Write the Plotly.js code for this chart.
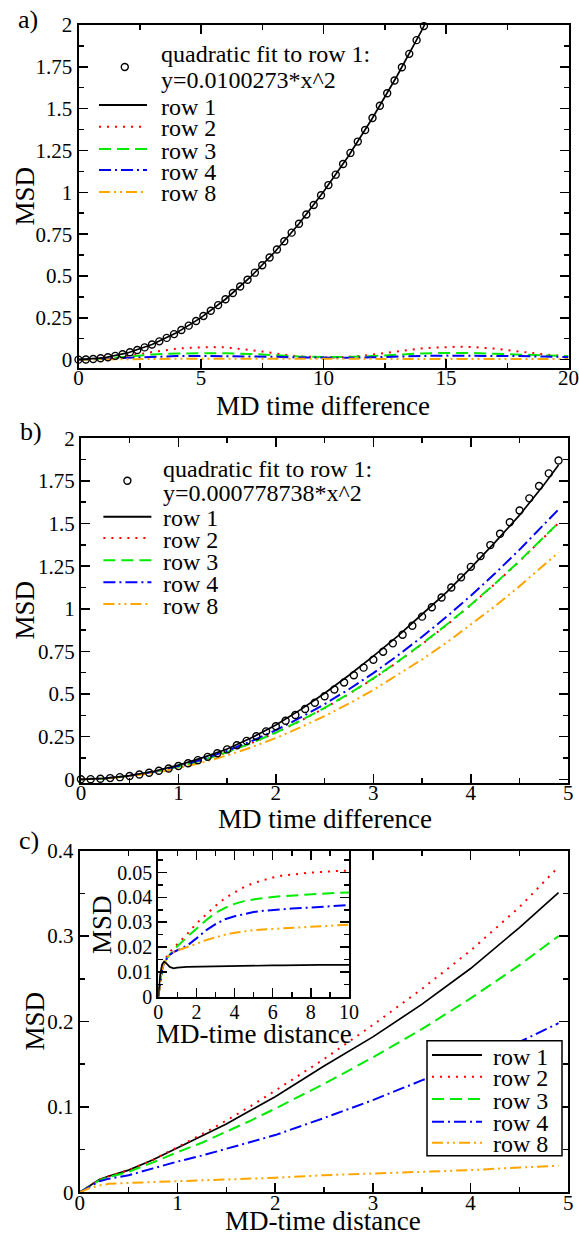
<!DOCTYPE html>
<html>
<head>
<meta charset="utf-8">
<script src="https://cdn.plot.ly/plotly-3.0.1.min.js"></script>
<style>html,body{margin:0;padding:0;background:#fff;}#chart{width:579px;height:1239px;}</style>
</head>
<body>
<div id="chart"></div>
<script>
// ---------- Panel a ----------
const aFitX = [0,0.3,0.6,0.9,1.2,1.5,1.8,2.1,2.4,2.7,3.0,3.3,3.6,3.9,4.2,4.5,4.8,5.1,5.4,5.7,6.0,6.3,6.6,6.9,7.2,7.5,7.8,8.1,8.4,8.7,9.0,9.3,9.6,9.9,10.2,10.5,10.8,11.1,11.4,11.7,12.0,12.3,12.6,12.9,13.2,13.5,13.8,14.1];
const aFitY = [0,0.0009,0.0036,0.0081,0.0144,0.0226,0.0325,0.0442,0.0578,0.0731,0.0902,0.1092,0.1300,0.1525,0.1769,0.2031,0.2310,0.2608,0.2924,0.3258,0.3610,0.3980,0.4368,0.4774,0.5198,0.5640,0.6101,0.6579,0.7075,0.7590,0.8122,0.8673,0.9241,0.9828,1.0432,1.1055,1.1696,1.2355,1.3032,1.3726,1.4439,1.5170,1.5919,1.6686,1.7472,1.8275,1.9096,1.9935];
const aRow1X = [0,1,2,3,4,5,6,7,8,9,10,11,12,13,14,15];
const aRow1Y = [0,0.010,0.040,0.090,0.160,0.251,0.361,0.491,0.642,0.812,1.003,1.213,1.444,1.695,1.965,2.256];
const aRow2X = [0,0.5,1,1.5,2,2.5,3,3.5,4,4.5,5,5.5,6,6.5,7,7.5,8,8.5,9,9.5,10,10.5,11,11.5,12,12.5,13,13.5,14,14.5,15,15.5,16,16.5,17,17.5,18,18.5,19,19.5,20];
const aRow2Y = [0,0.002,0.006,0.013,0.022,0.033,0.045,0.056,0.065,0.071,0.074,0.075,0.073,0.067,0.058,0.048,0.037,0.028,0.020,0.015,0.013,0.013,0.016,0.022,0.030,0.040,0.050,0.059,0.067,0.072,0.075,0.077,0.076,0.073,0.066,0.057,0.047,0.038,0.031,0.025,0.021];
const aRowX = [0,1,2,3,4,5,6,7,8,9,10,11,12,13,14,15,16,17,18,19,20];
const aRow3Y = [0,0.006,0.018,0.030,0.037,0.039,0.038,0.034,0.026,0.019,0.015,0.015,0.021,0.030,0.037,0.040,0.040,0.035,0.030,0.025,0.021];
const aRow4Y = [0,0.005,0.012,0.018,0.021,0.022,0.021,0.020,0.017,0.013,0.011,0.011,0.014,0.019,0.022,0.024,0.024,0.023,0.021,0.018,0.016];
const aRow8Y = [0,0.002,0.004,0.005,0.005,0.005,0.005,0.005,0.004,0.004,0.004,0.004,0.004,0.005,0.005,0.005,0.005,0.005,0.005,0.004,0.004];

// ---------- Panel b ----------
const bFitX = [0,0.1,0.2,0.3,0.4,0.5,0.6,0.7,0.8,0.9,1.0,1.1,1.2,1.3,1.4,1.5,1.6,1.7,1.8,1.9,2.0,2.1,2.2,2.3,2.4,2.5,2.6,2.7,2.8,2.9,3.0,3.1,3.2,3.3,3.4,3.5,3.6,3.7,3.8,3.9,4.0,4.1,4.2,4.3,4.4,4.5,4.6,4.7,4.8,4.9];
const bFitY = [0,0.00078,0.00311,0.00701,0.01246,0.01947,0.02803,0.03816,0.04984,0.06308,0.07787,0.09423,0.11214,0.13161,0.15263,0.17522,0.19936,0.22506,0.25231,0.28112,0.31150,0.34342,0.37691,0.41195,0.44855,0.48671,0.52643,0.56770,0.61053,0.65492,0.70086,0.74837,0.79743,0.84804,0.90022,0.95395,1.00924,1.06609,1.12450,1.18446,1.24598,1.30906,1.37369,1.43988,1.50763,1.57694,1.64780,1.72022,1.79420,1.86973];
const bX = [0,0.25,0.5,0.75,1,1.25,1.5,1.75,2,2.25,2.5,2.75,3,3.25,3.5,3.75,4,4.25,4.5,4.75,4.9];
const bRow1Y = [0,0.005,0.021,0.047,0.083,0.127,0.178,0.243,0.318,0.407,0.505,0.61,0.722,0.84,0.968,1.097,1.24,1.391,1.549,1.728,1.843];
const bRow2Y = [0,0.005,0.0195,0.042,0.073,0.111,0.158,0.212,0.273,0.342,0.418,0.5,0.59,0.688,0.793,0.904,1.022,1.147,1.279,1.418,1.503];
const bRow3Y = [0,0.0053,0.0197,0.0426,0.0735,0.112,0.159,0.213,0.274,0.343,0.419,0.502,0.592,0.69,0.795,0.906,1.024,1.149,1.281,1.42,1.505];
const bRow4Y = [0,0.0055,0.0207,0.0448,0.0773,0.118,0.167,0.224,0.288,0.361,0.441,0.528,0.623,0.726,0.836,0.953,1.077,1.208,1.347,1.493,1.583];
const bRow8Y = [0,0.0046,0.0174,0.0377,0.065,0.0993,0.140,0.188,0.242,0.304,0.371,0.444,0.524,0.611,0.703,0.801,0.906,1.016,1.133,1.256,1.331];

// ---------- Panel c (main) ----------
const cX = [0,0.1,0.2,0.3,0.5,0.75,1,1.25,1.5,1.75,2,2.5,3,3.5,4,4.5,4.9];
const cRow1Y = [0,0.007,0.015,0.019,0.026,0.038,0.052,0.066,0.080,0.096,0.112,0.148,0.182,0.22,0.262,0.31,0.351];
const cRow2Y = [0,0.007,0.015,0.019,0.026,0.038,0.053,0.068,0.084,0.101,0.119,0.156,0.196,0.238,0.283,0.334,0.381];
const cRow3Y = [0,0.007,0.014,0.018,0.024,0.035,0.047,0.058,0.071,0.084,0.098,0.127,0.158,0.191,0.227,0.266,0.300];
const cRow4Y = [0,0.007,0.013,0.016,0.020,0.028,0.036,0.043,0.051,0.059,0.067,0.087,0.108,0.131,0.153,0.176,0.198];
const cRow8Y = [0,0.005,0.008,0.010,0.011,0.012,0.013,0.014,0.015,0.016,0.017,0.020,0.022,0.024,0.026,0.029,0.031];

// ---------- Panel c (inset) ----------
const iX = [0,0.1,0.2,0.3,0.4,0.5,0.6,0.8,1,1.5,2,2.5,3,3.5,4,4.5,5,5.5,6,6.5,7,7.5,8,8.5,9,9.5,10];
const iRow1Y = [0,0.009,0.013,0.0141,0.0136,0.0127,0.012,0.0114,0.0117,0.012,0.0121,0.0122,0.0123,0.0124,0.0124,0.0125,0.0125,0.0126,0.0126,0.0126,0.0127,0.0127,0.0127,0.0128,0.0128,0.0128,0.0128];
const iRow2Y = [0,0.006,0.011,0.014,0.016,0.0172,0.018,0.0195,0.021,0.0251,0.0295,0.0332,0.0366,0.0397,0.042,0.0442,0.0458,0.047,0.048,0.0488,0.0493,0.0497,0.05,0.0502,0.0505,0.0507,0.0508];
const iRow3Y = [0,0.006,0.011,0.0135,0.015,0.016,0.017,0.0188,0.0203,0.024,0.0274,0.0308,0.0337,0.0358,0.0374,0.0385,0.0392,0.0398,0.0402,0.0405,0.0408,0.041,0.0413,0.0415,0.0417,0.0419,0.042];
const iRow4Y = [0,0.006,0.011,0.0135,0.015,0.016,0.0168,0.018,0.0187,0.0205,0.0235,0.0267,0.0292,0.0312,0.0324,0.0333,0.0341,0.0346,0.035,0.0353,0.0355,0.0357,0.0359,0.0361,0.0364,0.0367,0.0369];
const iRow8Y = [0,0.006,0.011,0.0135,0.015,0.016,0.0168,0.018,0.0186,0.0198,0.0213,0.0228,0.024,0.025,0.0258,0.0264,0.0268,0.0271,0.0273,0.0275,0.0277,0.0279,0.0281,0.0283,0.0285,0.0287,0.029];

const seriesNames = ['row 1','row 2','row 3','row 4','row 8'];
const fitLabelA = ['quadratic fit to row 1:', 'y=0.0100273*x^2'];
const fitLabelB = ['quadratic fit to row 1:', 'y=0.000778738*x^2'];

// ---------- styles ----------
const FONT = '"Liberation Serif", "Times New Roman", "DejaVu Serif", serif';
const W = 579, H = 1239;
const st = [
  {color:'rgb(0,0,0)', dash:'solid'},
  {color:'rgb(255,0,0)', dash:'2px,6px'},
  {color:'rgb(0,235,0)', dash:'12px,6px'},
  {color:'rgb(0,0,255)', dash:'12px,4px,2px,4px'},
  {color:'rgb(255,165,0)', dash:'11px,4px,2px,4px,2px,4px'}
];
function line(x, y, i, xa, ya) {
  return {x:x, y:y, xaxis:xa, yaxis:ya, mode:'lines', type:'scatter',
          line:{color:st[i].color, dash:st[i].dash, width: i===0 ? 1.7 : 2}, hoverinfo:'skip'};
}
function circ(x, y, xa, ya) {
  return {x:x, y:y, xaxis:xa, yaxis:ya, mode:'markers', type:'scatter', cliponaxis:false,
          marker:{symbol:'circle-open', size:7, color:'black', line:{width:1.4, color:'black'}}, hoverinfo:'skip'};
}

const traces = [
  line(aRow2X, aRow2Y, 1, 'x', 'y'),
  line(aRowX, aRow3Y, 2, 'x', 'y'),
  line(aRowX, aRow4Y, 3, 'x', 'y'),
  line(aRowX, aRow8Y, 4, 'x', 'y'),
  line(aRow1X, aRow1Y, 0, 'x', 'y'),
  circ(aFitX, aFitY, 'x', 'y'),

  line(bX, bRow2Y, 1, 'x2', 'y2'),
  line(bX, bRow3Y, 2, 'x2', 'y2'),
  line(bX, bRow4Y, 3, 'x2', 'y2'),
  line(bX, bRow8Y, 4, 'x2', 'y2'),
  line(bX, bRow1Y, 0, 'x2', 'y2'),
  circ(bFitX, bFitY, 'x2', 'y2'),

  line(cX, cRow1Y, 0, 'x3', 'y3'),
  line(cX, cRow2Y, 1, 'x3', 'y3'),
  line(cX, cRow3Y, 2, 'x3', 'y3'),
  line(cX, cRow4Y, 3, 'x3', 'y3'),
  line(cX, cRow8Y, 4, 'x3', 'y3'),

  line(iX, iRow2Y, 1, 'x4', 'y4'),
  line(iX, iRow3Y, 2, 'x4', 'y4'),
  line(iX, iRow4Y, 3, 'x4', 'y4'),
  line(iX, iRow8Y, 4, 'x4', 'y4'),
  line(iX, iRow1Y, 0, 'x4', 'y4')
];

function px(x){return x/W;}
function py(y){return 1 - y/H;}

function axis(domain, range, dtick, minorDtick, anchor, fontSize, standoff) {
  return {
    domain: domain, range: range, anchor: anchor, autorange:false,
    showline:true, linecolor:'black', linewidth:2, mirror:'allticks',
    ticks:'inside', ticklen:9, tickwidth:1.5, tickcolor:'black',
    dtick: dtick, tick0: 0, showgrid:false, zeroline:false,
    ticklabelstandoff: standoff || 0,
    tickfont:{family:FONT, size:fontSize, color:'black'},
    minor:{dtick:minorDtick, tick0:0, ticks:'inside', ticklen:5, tickwidth:1.5, tickcolor:'black', showgrid:false},
    fixedrange:true
  };
}

const layout = {
  width: W, height: H,
  margin:{l:0, r:0, t:0, b:0, pad:0},
  paper_bgcolor:'white', plot_bgcolor:'white',
  showlegend:false,
  font:{family:FONT, color:'black'},
  xaxis:  axis([px(78.5), px(568.5)], [0,20], 5, 2.5, 'y', 21, -10),
  yaxis:  axis([py(368), py(25)], [-0.05,2], 0.25, 0.125, 'x', 21, 0),
  xaxis2: axis([px(80.9), px(568.3)], [0,5], 1, 0.5, 'y2', 21, -10),
  yaxis2: axis([py(782.7), py(438.3)], [-0.02,2], 0.25, 0.125, 'x2', 21, 0),
  xaxis3: axis([px(79.8), px(568.3)], [0,5], 1, 0.5, 'y3', 21, -10),
  yaxis3: axis([py(1192.3), py(850.7)], [0,0.4], 0.1, 0.05, 'x3', 21, 0),
  xaxis4: axis([px(158.3), px(349)], [0,10], 2, 1, 'y4', 20, -4),
  yaxis4: axis([py(996.7), py(851)], [0,0.0587], 0.01, 0.005, 'x4', 20, 0),
  annotations: [],
  shapes: []
};

const ann = layout.annotations, shp = layout.shapes;
function text(t, x, y, size, opts) {
  ann.push(Object.assign({text:t, xref:'paper', yref:'paper', x:px(x), y:py(y),
    xanchor:'left', yanchor:'middle', showarrow:false, font:{family:FONT, size:size, color:'black'}}, opts||{}));
}
// panel labels
text('a)', 16, 19, 26);
text('b)', 18, 431, 26);
text('c)', 17, 840, 26);
// axis titles
text('MD time difference', 323.5, 406, 27, {xanchor:'center'});
text('MD time difference', 324.6, 819, 27, {xanchor:'center'});
text('MD-time distance', 323, 1221, 27, {xanchor:'center'});
text('MD-time distance', 254, 1034, 27, {xanchor:'center'});
text('MSD', 24, 196.5, 27, {xanchor:'center', textangle:-90});
text('MSD', 25, 610.5, 27, {xanchor:'center', textangle:-90});
text('MSD', 34, 1021.5, 27, {xanchor:'center', textangle:-90});
text('MSD', 102, 924, 27, {xanchor:'center', textangle:-90});

function sample(i, x0, x1, y) {
  shp.push({type:'line', xref:'paper', yref:'paper', x0:px(x0), x1:px(x1), y0:py(y), y1:py(y),
            line:{color:st[i].color, dash:st[i].dash, width: 2}});
}
function circleMark(cx, cy) {
  const r = 3.5;
  shp.push({type:'circle', xref:'paper', yref:'paper', x0:px(cx-r), x1:px(cx+r), y0:py(cy+r), y1:py(cy-r),
            line:{color:'black', width:1.4}, fillcolor:'rgba(0,0,0,0)'});
}
// legend a
circleMark(124.8, 67);
text(fitLabelA[0], 158.8, 54, 24);
text(fitLabelA[1], 158.8, 80, 24);
const aLegY = [105, 126.7, 149, 170, 192];
aLegY.forEach((y,i)=>{ sample(i, 99, 147, y); text(seriesNames[i], 158.8, y+1.5, 24); });
// legend b
circleMark(127.4, 480.7);
text(fitLabelB[0], 161.4, 469, 24);
text(fitLabelB[1], 161.4, 493, 24);
const bLegY = [516.7, 538, 560.3, 582.3, 604];
bLegY.forEach((y,i)=>{ sample(i, 103.4, 151.4, y); text(seriesNames[i], 161.4, y+1.5, 24); });
// legend c (boxed)
shp.push({type:'rect', xref:'paper', yref:'paper', x0:px(427), x1:px(562), y0:py(1155.7), y1:py(1040.7),
          line:{color:'black', width:1.5}, fillcolor:'white', layer:'above'});
const cLegY = [1055, 1076.7, 1099, 1121.7, 1142.7];
cLegY.forEach((y,i)=>{ sample(i, 432, 482, y); text(seriesNames[i], 491, y+1.5, 24); });

Plotly.newPlot('chart', traces, layout, {staticPlot:true, displayModeBar:false});
</script>
</body>
</html>
